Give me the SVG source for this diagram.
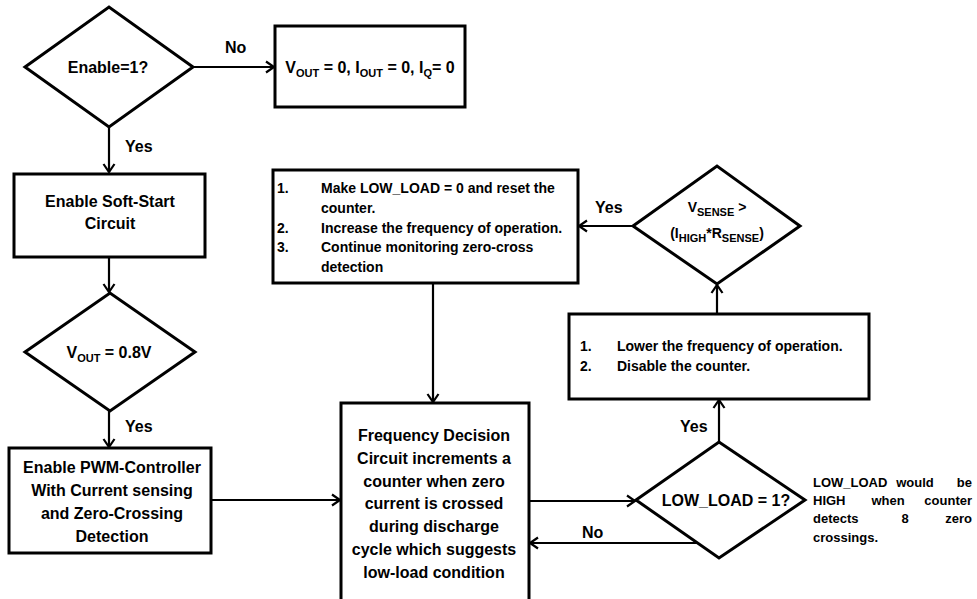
<svg xmlns="http://www.w3.org/2000/svg" width="977" height="599" viewBox="0 0 977 599">
<style>
text{font-family:"Liberation Sans",Arial,sans-serif;font-weight:bold;fill:#000}
.n{font-size:16px}
.s{font-size:14px}
.a{font-size:13px}
.sub{font-size:11px}
.c{text-anchor:middle}
.e{text-anchor:end}
.shape{fill:#fff;stroke:#000;stroke-width:3}
.conn line{stroke:#000;stroke-width:2.2;marker-end:url(#arr)}
</style>
<defs>
<marker id="arr" markerUnits="userSpaceOnUse" markerWidth="12" markerHeight="14" refX="9" refY="6" orient="auto" viewBox="0 0 12 12">
<path d="M1,0.5 L9,6 L1,11.5" fill="none" stroke="#000" stroke-width="2.2"/>
</marker>
</defs>
<rect width="977" height="599" fill="#fff"/>

<g id="enable">
<polygon class="shape" points="25,67 109,7 193,67 109,127"/>
<text class="n c" x="108" y="73">Enable=1?</text>
</g>

<g id="off">
<rect class="shape" x="275" y="26" width="190" height="81"/>
<text class="n c" x="370" y="73">V<tspan class="sub" dy="4">OUT</tspan><tspan dy="-4"> = 0, I</tspan><tspan class="sub" dy="4">OUT</tspan><tspan dy="-4"> = 0, I</tspan><tspan class="sub" dy="4">Q</tspan><tspan dy="-4">= 0</tspan></text>
</g>

<g id="softstart">
<rect class="shape" x="14" y="174" width="191" height="83"/>
<text class="n c" x="110" y="207">Enable Soft-Start</text>
<text class="n c" x="110" y="229">Circuit</text>
</g>

<g id="vout">
<polygon class="shape" points="25,352 110,293 195,352 110,411"/>
<text class="n c" x="109" y="358">V<tspan class="sub" dy="4">OUT</tspan><tspan dy="-4"> = 0.8V</tspan></text>
</g>

<g id="pwm">
<rect class="shape" x="9" y="448" width="202" height="105"/>
<text class="n c" x="112" y="473">Enable PWM-Controller</text>
<text class="n c" x="112" y="496">With Current sensing</text>
<text class="n c" x="112" y="519">and Zero-Crossing</text>
<text class="n c" x="112" y="542">Detection</text>
</g>

<g id="freq">
<rect class="shape" x="341" y="403" width="188" height="205"/>
<text class="n c" x="434" y="441">Frequency Decision</text>
<text class="n c" x="434" y="464">Circuit increments a</text>
<text class="n c" x="434" y="487">counter when zero</text>
<text class="n c" x="434" y="509">current is crossed</text>
<text class="n c" x="434" y="532">during discharge</text>
<text class="n c" x="434" y="555">cycle which suggests</text>
<text class="n c" x="434" y="578">low-load condition</text>
</g>

<g id="reset">
<rect class="shape" x="273" y="170" width="305" height="113"/>
<text class="s" x="277" y="193">1.</text>
<text class="s" x="321" y="193">Make LOW_LOAD = 0 and reset the</text>
<text class="s" x="321" y="213">counter.</text>
<text class="s" x="277" y="233">2.</text>
<text class="s" x="321" y="233">Increase the frequency of operation.</text>
<text class="s" x="277" y="252">3.</text>
<text class="s" x="321" y="252">Continue monitoring zero-cross</text>
<text class="s" x="321" y="272">detection</text>
</g>

<g id="vsense">
<polygon class="shape" points="633,226 717,166 800,226 717,284"/>
<text class="s c" x="717" y="212">V<tspan class="sub" dy="4">SENSE</tspan><tspan dy="-4"> &gt;</tspan></text>
<text class="s c" x="717" y="238">(I<tspan class="sub" dy="4">HIGH</tspan><tspan dy="-4">*R</tspan><tspan class="sub" dy="4">SENSE</tspan><tspan dy="-4">)</tspan></text>
</g>

<g id="lower">
<rect class="shape" x="569" y="314" width="300" height="85"/>
<text class="s" x="580" y="351">1.</text>
<text class="s" x="617" y="351">Lower the frequency of operation.</text>
<text class="s" x="580" y="371">2.</text>
<text class="s" x="617" y="371">Disable the counter.</text>
</g>

<g id="lowload">
<polygon class="shape" points="636,500 719,442 805,500 719,558"/>
<text class="n c" x="726" y="506">LOW_LOAD = 1?</text>
</g>

<g id="note">
<text class="a" x="813" y="487">LOW_LOAD</text><text class="a c" x="915" y="487">would</text><text class="a e" x="972" y="487">be</text>
<text class="a" x="813" y="505">HIGH</text><text class="a c" x="888" y="505">when</text><text class="a e" x="972" y="505">counter</text>
<text class="a" x="813" y="523">detects</text><text class="a c" x="905" y="523">8</text><text class="a e" x="972" y="523">zero</text>
<text class="a" x="813" y="542">crossings.</text>
</g>

<g id="connectors" class="conn">
<line x1="193" y1="67" x2="274" y2="67"/>
<line x1="109" y1="127" x2="109" y2="172"/>
<line x1="109" y1="257" x2="109" y2="292"/>
<line x1="109" y1="411" x2="109" y2="447"/>
<line x1="211" y1="500" x2="340" y2="500"/>
<line x1="433" y1="283" x2="433" y2="402"/>
<line x1="529" y1="501" x2="635" y2="501"/>
<line x1="698" y1="543" x2="530" y2="543"/>
<line x1="719" y1="442" x2="719" y2="400"/>
<line x1="717" y1="314" x2="717" y2="285"/>
<line x1="633" y1="226" x2="579" y2="226"/>
</g>

<g id="labels">
<text class="n" x="225" y="53">No</text>
<text class="n" x="125" y="152">Yes</text>
<text class="n" x="125" y="432">Yes</text>
<text class="n" x="595" y="213">Yes</text>
<text class="n" x="680" y="432">Yes</text>
<text class="n" x="582" y="538">No</text>
</g>
</svg>
